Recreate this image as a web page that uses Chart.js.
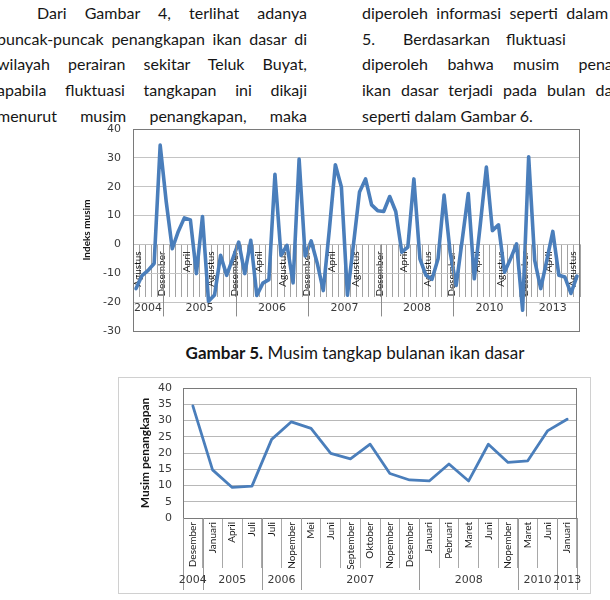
<!DOCTYPE html>
<html>
<head>
<meta charset="utf-8">
<script src="https://cdn.jsdelivr.net/npm/chart.js@4/dist/chart.umd.min.js"></script>
<style>
  html, body { margin:0; padding:0; background:#fff; }
  body { width:610px; height:600px; position:relative; overflow:hidden; }
  .ln { position:absolute; font-family:Lato, sans-serif; font-size:16px; line-height:25.7px; height:25.7px;
        color:#161616; text-align:justify; text-align-last:justify; white-space:normal; }
  .L { left:-3px; width:310px; }
  .R { left:362px; width:310px; }
  .cap { position:absolute; left:105px; width:500px; top:343px; text-align:center; font-family:Lato, sans-serif;
         font-size:17px; line-height:20px; color:#161616; }
  canvas { position:absolute; }
</style>
</head>
<body>
<div class="ln L" style="top:0px; text-indent:40px;">Dari Gambar 4, terlihat adanya</div>
<div class="ln L" style="top:25.7px;">puncak-puncak penangkapan ikan dasar di</div>
<div class="ln L" style="top:51.4px;">wilayah perairan sekitar Teluk Buyat,</div>
<div class="ln L" style="top:77.1px;">apabila fluktuasi tangkapan ini dikaji</div>
<div class="ln L" style="top:102.8px;">menurut musim penangkapan, maka</div>

<div class="ln R" style="top:0px;">diperoleh informasi seperti dalam Gambar</div>
<div class="ln R" style="top:25.7px; text-align:left; text-align-last:left; white-space:nowrap;">
  <span style="position:absolute; left:0;">5.</span><span style="position:absolute; left:41px;">Berdasarkan</span><span style="position:absolute; left:144px;">fluktuasi</span><span style="position:absolute; left:252px;">tersebut,</span>
</div>
<div class="ln R" style="top:51.4px;">diperoleh bahwa musim penangkapan</div>
<div class="ln R" style="top:77.1px;">ikan dasar terjadi pada bulan dan tahun</div>
<div class="ln R" style="top:102.8px; text-align:left; text-align-last:left;">seperti dalam Gambar 6.</div>

<canvas id="c1" width="540" height="215" style="left:60px; top:120px;"></canvas>
<div class="cap"><b>Gambar 5.</b> Musim tangkap bulanan ikan dasar</div>
<canvas id="c2" width="473" height="217" style="left:118px; top:377px;"></canvas>

<script>
// ---------------- DATA ----------------
const monthNames = ['Januari','Februari','Maret','April','Mei','Juni','Juli','Agustus','September','Oktober','Nopember','Desember'];

// Gambar 5: monthly season index, Agustus 2004 .. September 2013
const yearLabels1 = ['2004','2005','2006','2007','2008','2010','2013'];
const yearMonthCounts1 = [5, 12, 12, 12, 12, 12, 9];
const firstMonth1 = 7; // Agustus
const labelEvery1 = 4;
const indeksMusim = [
  -15.3, -10.8, -9.0, -6.6, 34.4,
  14.8, -1.5, 4.5, 9.2, 8.5, -10.1, 9.7, -19.7, -17.5, -3.8, -10.7, -5.0,
  0.8, -10.1, 1.4, -17.7, -13.4, -12.2, 24.3, -3.8, -0.3, -13.3, 29.6, -4.0,
  1.2, -6.5, -16.0, 5.0, 27.6, 19.9, -17.6, 0.0, 18.2, 22.7, 13.7, 11.7,
  11.4, 16.6, 11.4, -2.7, -0.9, 22.7, -5.0, -10.7, -12.1, -5.0, 17.1, -2.7,
  -14.2, 1.5, 17.6, -11.9, 7.0, 26.8, 4.8, 6.8, -9.6, -5.0, 0.2, -22.8,
  30.4, -5.5, -15.3, -5.5, 4.5, -10.7, -11.3, -17.0, -11.0
];
const yTicks1 = { min: -30, max: 40, step: 10 };

// Gambar 6: fishing season peaks
const months2 = ['Desember','Januari','April','Juli','Juli','Nopember','Mei','Juni','September','Oktober',
                 'Nopember','Desember','Januari','Pebruari','Maret','Juni','Nopember','Maret','Juni','Januari'];
const yearLabels2 = ['2004','2005','2006','2007','2008','2010','2013'];
const yearMonthCounts2 = [1, 3, 2, 6, 5, 2, 1];
const musimPenangkapan = [34.5, 14.8, 9.4, 9.8, 24.2, 29.6, 27.6, 19.9, 18.2, 22.7,
                          13.7, 11.7, 11.4, 16.6, 11.4, 22.7, 17.1, 17.6, 26.8, 30.4];
const yTicks2 = { min: 0, max: 40, step: 5 };

// category list for chart 1 built from the month names and year groups
const months1 = [];
{
  let m = firstMonth1;
  yearMonthCounts1.forEach(c => { for (let k = 0; k < c; k++) { months1.push(monthNames[m % 12]); m++; } });
}

// ---------------- PLUGINS ----------------
const groupAxisPlugin = {
  id: 'groupAxis',
  afterDraw(chart, args, o) {
    const { ctx, chartArea } = chart;
    const xs = chart.scales.x;
    const axisY = (o.axisValue !== undefined) ? chart.scales.y.getPixelForValue(o.axisValue) : chartArea.bottom;
    const step = xs.getPixelForValue(1) - xs.getPixelForValue(0);
    ctx.save();
    ctx.strokeStyle = o.sepColor; ctx.lineWidth = 1;
    ctx.font = o.font; ctx.fillStyle = o.color; ctx.textAlign = 'center'; ctx.textBaseline = 'middle';
    let start = 0;
    if (o.drawFirst) {
      const px = Math.round(xs.getPixelForValue(0) - step / 2) + 0.5;
      ctx.beginPath(); ctx.moveTo(px, axisY); ctx.lineTo(px, axisY + o.sepLen); ctx.stroke();
    }
    o.labels.forEach((lab, k) => {
      const end = start + o.counts[k];
      const left = xs.getPixelForValue(start) - step / 2;
      const right = xs.getPixelForValue(end - 1) + step / 2;
      if (k < o.labels.length - 1 || o.drawLast) {
        const px = Math.round(right) + 0.5;
        ctx.beginPath(); ctx.moveTo(px, axisY); ctx.lineTo(px, axisY + o.sepLen); ctx.stroke();
      }
      ctx.fillText(lab, (left + right) / 2 + (o.labelDx || 0), axisY + o.labelOffset);
      start = end;
    });
    ctx.restore();
  }
};
const framePlugin = {
  id: 'frame',
  beforeDraw(chart, args, o) {
    if (o.outer) {
      const c = chart.ctx;
      c.save(); c.strokeStyle = o.outer; c.lineWidth = 1;
      c.strokeRect(0.5, 0.5, chart.width - 1, chart.height - 1); c.restore();
    }
  },
  afterDatasetsDraw(chart, args, o) {
    const { ctx, chartArea: a } = chart;
    ctx.save(); ctx.strokeStyle = o.color; ctx.lineWidth = 1;
    ctx.strokeRect(Math.round(a.left) + 0.5, Math.round(a.top) + 0.5,
                   Math.round(a.right - a.left) - 1, Math.round(a.bottom - a.top));
    ctx.restore();
  }
};

Chart.defaults.font.family = 'Lato';
const blue = '#4a7ebb';

// ---------------- CHART 1 ----------------
new Chart(document.getElementById('c1'), {
  type: 'line',
  data: { labels: months1, datasets: [{ data: indeksMusim, borderColor: blue, borderWidth: 3.6,
          pointRadius: 0, tension: 0, borderJoinStyle: 'round', borderCapStyle: 'round', fill: false }] },
  options: {
    responsive: false, animation: false, devicePixelRatio: 1, events: [],
    layout: { padding: { left: 17, top: 9, right: 20, bottom: 4 } },
    plugins: {
      legend: { display: false }, tooltip: { enabled: false },
      groupAxis: { labels: yearLabels1, counts: yearMonthCounts1, axisValue: 0, sepLen: 72, sepColor: '#8c8c8c',
                   font: '11px "DejaVu Sans"', color: '#3a3a3a', labelOffset: 64 },
      frame: { color: '#7a7a7a' }
    },
    scales: {
      x: {
        position: { y: 0 }, offset: true,
        grid: { offset: true, drawOnChartArea: false, drawTicks: true, tickLength: 52, color: '#a3a3a3' },
        border: { display: true, color: '#c0c0c0' },
        ticks: { autoSkip: false, minRotation: 90, maxRotation: 90, padding: -45, labelOffset: 2,
                 font: { family: 'Lato', size: 10 }, color: '#161616',
                 callback: function (v, i) { return i % labelEvery1 === 0 ? this.getLabelForValue(v) : ''; } }
      },
      y: {
        min: yTicks1.min, max: yTicks1.max,
        ticks: { stepSize: yTicks1.step, padding: 12, color: '#3a3a3a', font: { family: 'DejaVu Sans', size: 11 } },
        grid: { color: '#c4c4c4', drawTicks: false },
        border: { display: false },
        title: { display: true, text: 'Indeks musim', color: '#161616', padding: { top: 4, bottom: 4 },
                 font: { family: 'Lato', size: 10, weight: 'bold' } },
        afterFit: s => { s.width = 56; s.paddingTop = 0; s.paddingBottom = 0; }
      }
    }
  },
  plugins: [groupAxisPlugin, framePlugin]
});

// ---------------- CHART 2 ----------------
new Chart(document.getElementById('c2'), {
  type: 'line',
  data: { labels: months2, datasets: [{ data: musimPenangkapan, borderColor: blue, borderWidth: 2.8,
          pointRadius: 0, tension: 0, borderJoinStyle: 'round', borderCapStyle: 'round', fill: false }] },
  options: {
    responsive: false, animation: false, devicePixelRatio: 1, events: [],
    layout: { padding: { left: 16, top: 11, right: 14, bottom: 0 } },
    plugins: {
      legend: { display: false }, tooltip: { enabled: false },
      groupAxis: { labels: yearLabels2, counts: yearMonthCounts2, sepLen: 72, sepColor: '#9a9a9a', drawLast: true, drawFirst: true,
                   font: '11px "DejaVu Sans"', color: '#3a3a3a', labelOffset: 62 },
      frame: { color: '#7a7a7a', outer: '#d0d0d0' }
    },
    scales: {
      x: {
        offset: true,
        grid: { offset: true, drawOnChartArea: false, drawTicks: true, tickLength: 50, color: '#a8a8a8' },
        border: { display: true, color: '#7a7a7a' },
        ticks: { autoSkip: false, minRotation: 90, maxRotation: 90, padding: -46,
                 font: { family: 'Lato', size: 10 }, color: '#161616' },
        afterFit: s => { s.height = 76; s.paddingLeft = 0; s.paddingRight = 0; }
      },
      y: {
        min: yTicks2.min, max: yTicks2.max,
        ticks: { stepSize: yTicks2.step, padding: 11, color: '#3a3a3a', font: { family: 'DejaVu Sans', size: 11 } },
        grid: { color: '#b8b8b8', drawTicks: false },
        border: { display: false },
        title: { display: true, text: 'Musim penangkapan', color: '#161616', padding: { top: 4, bottom: 4 },
                 font: { family: 'Lato', size: 12, weight: 'bold' } },
        afterFit: s => { s.width = 49; s.paddingTop = 0; s.paddingBottom = 0; }
      }
    }
  },
  plugins: [groupAxisPlugin, framePlugin]
});
</script>
</body>
</html>
